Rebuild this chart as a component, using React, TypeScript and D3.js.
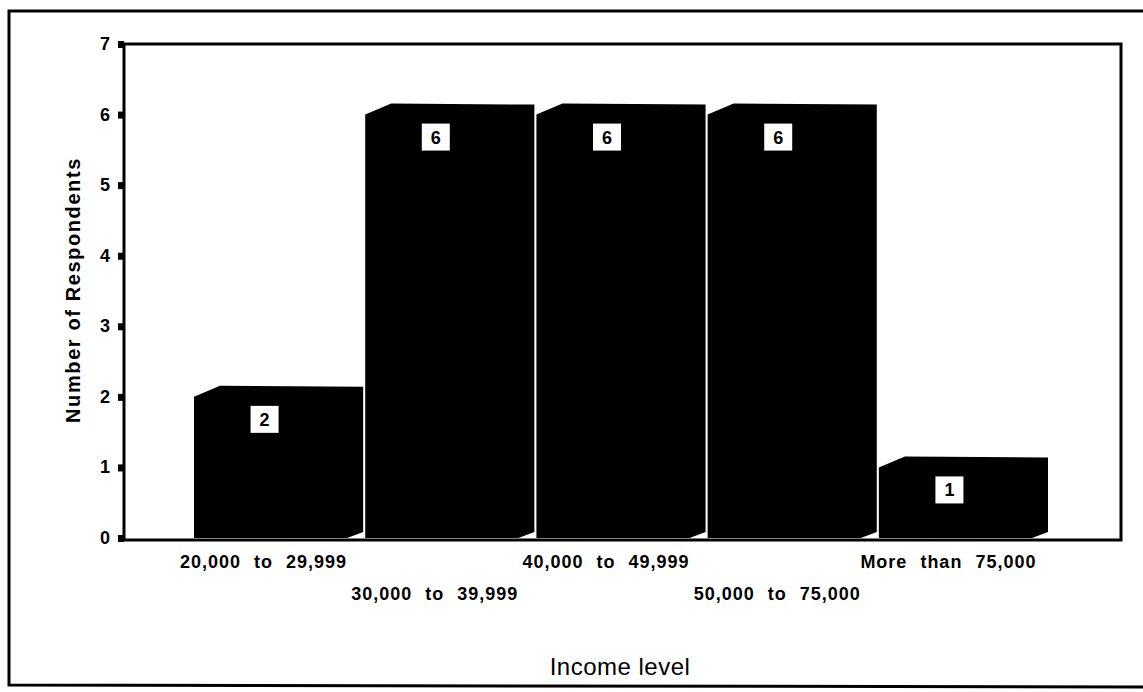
import React from "react";
import * as d3 from "d3";

const categories = [
  "20,000 to 29,999",
  "30,000 to 39,999",
  "40,000 to 49,999",
  "50,000 to 75,000",
  "More than 75,000",
];
const respondents = [2, 6, 6, 6, 1];
const yTicks = [0, 1, 2, 3, 4, 5, 6, 7];

const W = 1143;
const H = 692;
const FONT = "'Liberation Sans', Arial, Helvetica, sans-serif";

export default function App() {
  const plot = { left: 124, right: 1121, top: 44, bottom: 540 };
  const x = d3
    .scaleBand<string>()
    .domain(categories)
    .range([194, 1048])
    .paddingInner(0.012)
    .paddingOuter(0);
  const y = d3.scaleLinear().domain([0, 7]).range([538, 44]);

  const barPath = (c: string, v: number) => {
    const x0 = x(c)!;
    const x1 = x0 + x.bandwidth();
    const top = y(v);
    const base = y(0);
    const p = d3.path();
    p.moveTo(x0, top);
    p.lineTo(x0 + 26, top - 11);
    p.lineTo(x1, top - 10);
    p.lineTo(x1, base - 6);
    p.lineTo(x1 - 16, base);
    p.lineTo(x0, base);
    p.closePath();
    return p.toString();
  };

  return (
    <svg
      width={W}
      height={H}
      style={{ position: "absolute", left: 0, top: 0, background: "#fff" }}
      fontFamily={FONT}
    >
      {/* outer frame (right side off-page) */}
      <path
        d={`M${W},11 L9,11 L9,685 L${W},687`}
        fill="none"
        stroke="#000"
        strokeWidth={3}
      />
      {/* plot frame */}
      <rect
        x={plot.left}
        y={plot.top}
        width={plot.right - plot.left}
        height={plot.bottom - plot.top}
        fill="none"
        stroke="#000"
        strokeWidth={3}
      />
      {/* y ticks */}
      {yTicks.map((t) => (
        <g key={t}>
          <rect x={plot.left - 6} y={y(t) - 3} width={6} height={7} fill="#000" />
          <text
            x={110}
            y={y(t) + 6}
            textAnchor="end"
            fontSize={18}
            fontWeight="bold"
          >
            {t}
          </text>
        </g>
      ))}
      {/* bars */}
      {categories.map((c, i) => {
        const cx = x(c)! + x.bandwidth() / 2 - 14;
        const top = y(respondents[i]);
        return (
          <g key={c}>
            <path d={barPath(c, respondents[i])} fill="#000" />
            <rect x={cx - 14} y={top + 9} width={28} height={27} fill="#fff" />
            <text
              x={cx}
              y={top + 29}
              textAnchor="middle"
              fontSize={18}
              fontWeight="bold"
            >
              {respondents[i]}
            </text>
          </g>
        );
      })}
      {/* x labels */}
      {categories.map((c, i) => (
        <text
          key={c}
          x={x(c)! + x.bandwidth() / 2 - 15}
          y={i % 2 === 0 ? 568 : 600}
          textAnchor="middle"
          fontSize={18}
          fontWeight="bold"
          letterSpacing={1}
          wordSpacing={7}
        >
          {c}
        </text>
      ))}
      {/* axis titles */}
      <text
        transform={`translate(80,290) rotate(-90)`}
        textAnchor="middle"
        fontSize={20}
        fontWeight="bold"
        letterSpacing={1.6}
      >
        Number of Respondents
      </text>
      <text x={620} y={675} textAnchor="middle" fontSize={24} letterSpacing={0.5}>
        Income level
      </text>
    </svg>
  );
}
